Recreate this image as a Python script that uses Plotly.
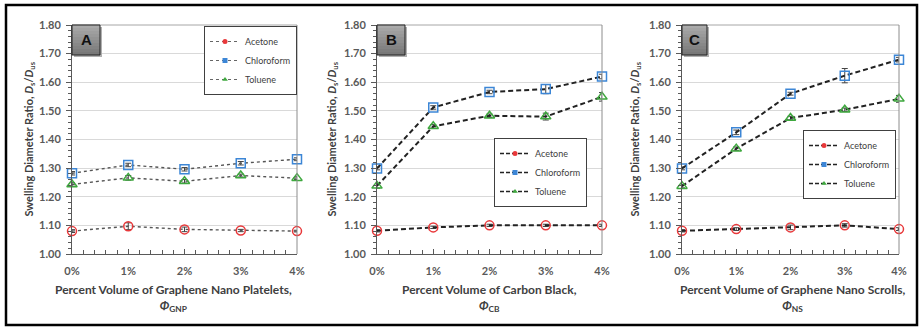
import plotly.graph_objects as go

W, H = 923, 327

# ---------------- data ----------------
x_pct = [0, 1, 2, 3, 4]
x_labels = ["0%", "1%", "2%", "3%", "4%"]
y_ticks = [1.0, 1.1, 1.2, 1.3, 1.4, 1.5, 1.6, 1.7, 1.8]
series_names = ["Acetone", "Chloroform", "Toluene"]
panel_letters = ["A", "B", "C"]

gnp_acetone = [1.080, 1.097, 1.086, 1.082, 1.080]
gnp_chloroform = [1.282, 1.311, 1.296, 1.317, 1.331]
gnp_toluene = [1.243, 1.266, 1.254, 1.274, 1.265]
gnp_acetone_err = [0.005, 0.012, 0.008, 0.004, 0.003]
gnp_chloroform_err = [0.006, 0.006, 0.006, 0.006, 0.005]
gnp_toluene_err = [0.006, 0.008, 0.006, 0.005, 0.005]

cb_acetone = [1.081, 1.093, 1.100, 1.100, 1.100]
cb_chloroform = [1.299, 1.512, 1.566, 1.576, 1.620]
cb_toluene = [1.238, 1.446, 1.483, 1.480, 1.549]
cb_acetone_err = [0.004, 0.004, 0.004, 0.004, 0.004]
cb_chloroform_err = [0.005, 0.006, 0.006, 0.016, 0.008]
cb_toluene_err = [0.008, 0.006, 0.006, 0.012, 0.015]

ns_acetone = [1.081, 1.087, 1.093, 1.100, 1.087]
ns_chloroform = [1.299, 1.425, 1.560, 1.623, 1.679]
ns_toluene = [1.237, 1.368, 1.475, 1.504, 1.542]
ns_acetone_err = [0.004, 0.005, 0.008, 0.006, 0.005]
ns_chloroform_err = [0.005, 0.008, 0.005, 0.025, 0.008]
ns_toluene_err = [0.006, 0.006, 0.006, 0.006, 0.012]

x_titles = [
    "Percent Volume of Graphene Nano Platelets,<br><i>Φ</i><sub>GNP</sub>",
    "Percent Volume of Carbon Black,<br><i>Φ</i><sub>CB</sub>",
    "Percent Volume of Graphene Nano Scrolls,<br><i>Φ</i><sub>NS</sub>",
]
y_title = "Swelling Diameter Ratio, <i>D</i><sub>s</sub>/<i>D</i><sub>us</sub>"

panels = [
    ([gnp_acetone, gnp_chloroform, gnp_toluene], [gnp_acetone_err, gnp_chloroform_err, gnp_toluene_err]),
    ([cb_acetone, cb_chloroform, cb_toluene], [cb_acetone_err, cb_chloroform_err, cb_toluene_err]),
    ([ns_acetone, ns_chloroform, ns_toluene], [ns_acetone_err, ns_chloroform_err, ns_toluene_err]),
]

# ---------------- styles ----------------
FONT = "Lato"
colors = ["#e8383a", "#3c86d6", "#3ea83e"]
open_syms = ["circle-open", "square-open", "triangle-up-open"]
fill_syms = ["circle", "square", "triangle-up"]
line_styles = [
    dict(color="#555555", width=1.4, dash="dot"),
    dict(color="#222222", width=2, dash="5px,3px"),
    dict(color="#222222", width=2, dash="5px,3px"),
]
legend_line_styles = [
    dict(color="#666666", width=1, dash="dot"),
    dict(color="#222222", width=1.6, dash="4px,2px"),
    dict(color="#222222", width=1.6, dash="4px,2px"),
]

# plot-area pixel boxes (left, right) and shared top/bottom
px_boxes = [(72, 297), (377, 602), (682, 899)]
top_px, bot_px = 25, 254
label_box_w = [28, 28, 25]
ytitle_px = [29, 332, 635]
xtitle_cx = [173, 489, 792]
legend_pos = [(204, 26), (494, 138), (803, 130)]


def fx(p):
    return p / W


def fy(p):
    return 1 - p / H


fig = go.Figure()
shapes = []
annotations = []
layout = {}

for i, (vals, errs) in enumerate(panels):
    n = "" if i == 0 else str(i + 1)
    xa, ya = "x" + n, "y" + n
    leg = "legend" + n
    for s in range(3):
        fig.add_trace(go.Scatter(
            x=x_pct, y=vals[s], xaxis=xa, yaxis=ya, mode="lines+markers",
            line=line_styles[i],
            marker=dict(symbol=open_syms[s], size=9, color=colors[s], line=dict(width=1.5, color=colors[s])),
            error_y=dict(type="data", array=errs[s], visible=True, color="#444444", thickness=1, width=3),
            showlegend=False, cliponaxis=False, name=series_names[s],
        ))
    for s in range(3):
        fig.add_trace(go.Scatter(
            x=[None], y=[None], xaxis=xa, yaxis=ya, mode="lines+markers",
            line=legend_line_styles[i],
            marker=dict(symbol=fill_syms[s], size=5, color=colors[s]),
            name=series_names[s], legend=leg, showlegend=True,
        ))

    l, r = px_boxes[i]
    layout["xaxis" + n] = dict(
        domain=[fx(l), fx(r)], anchor=ya, range=[0, 4], tickvals=x_pct, ticktext=x_labels,
        showline=True, linecolor="#595959", linewidth=1, ticks="inside", ticklen=5, tickcolor="#595959",
        minor=dict(dtick=0.2, ticks="inside", ticklen=4, tickcolor="#595959", showgrid=False),
        showgrid=False, zeroline=False, ticklabelstandoff=7, automargin=False,
        tickfont=dict(family=FONT, size=11, color="#595959", weight="bold"),
    )
    layout["yaxis" + n] = dict(
        domain=[fy(bot_px), fy(top_px)], anchor=xa, range=[1.0, 1.8], tickvals=y_ticks, tickformat=".2f",
        showline=True, linecolor="#595959", linewidth=1, ticks="outside", ticklen=5, tickcolor="#595959",
        minor=dict(dtick=0.02, ticks="outside", ticklen=3, tickcolor="#595959", showgrid=False),
        showgrid=True, gridcolor="#d9d9d9", gridwidth=1, zeroline=False, ticklabelstandoff=3, automargin=False,
        tickfont=dict(family=FONT, size=11, color="#595959", weight="bold"),
    )
    lx, ly = legend_pos[i]
    layout[leg] = dict(
        x=fx(lx), y=fy(ly), xanchor="left", yanchor="top", xref="paper", yref="paper",
        bordercolor="#404040", borderwidth=1, bgcolor="white",
        font=dict(family=FONT, size=9, color="#404040"), itemwidth=30, tracegroupgap=0,
    )

    # top / right plot frame
    shapes.append(dict(type="line", xref="paper", yref="paper", x0=fx(l), x1=fx(r), y0=fy(top_px), y1=fy(top_px),
                       line=dict(color="#a6a6a6", width=1)))
    shapes.append(dict(type="line", xref="paper", yref="paper", x0=fx(r), x1=fx(r), y0=fy(top_px), y1=fy(bot_px),
                       line=dict(color="#8c8c8c", width=1)))

    # panel label box with shadow + gradient
    bw = label_box_w[i]
    bh = 30
    shapes.append(dict(type="rect", xref="paper", yref="paper", x0=fx(l + 2), x1=fx(l + bw + 2),
                       y0=fy(top_px + bh + 2), y1=fy(top_px + 2), fillcolor="#b0b0b0", line=dict(width=0)))
    steps = 10
    for k in range(steps):
        c = int(170 - (170 - 120) * k / (steps - 1))
        shapes.append(dict(type="rect", xref="paper", yref="paper", x0=fx(l), x1=fx(l + bw),
                           y0=fy(top_px + bh * (k + 1) / steps), y1=fy(top_px + bh * k / steps),
                           fillcolor=f"rgb({c},{c},{c})", line=dict(width=0)))
    shapes.append(dict(type="rect", xref="paper", yref="paper", x0=fx(l), x1=fx(l + bw),
                       y0=fy(top_px + bh), y1=fy(top_px), line=dict(color="#222222", width=1)))
    annotations.append(dict(text=panel_letters[i], x=fx(l + bw / 2), y=fy(top_px + bh / 2), xref="paper", yref="paper",
                            showarrow=False, xanchor="center", yanchor="middle",
                            font=dict(family="Liberation Sans", size=15, color="#111111", weight="bold")))

    # axis titles
    annotations.append(dict(text=y_title, x=fx(ytitle_px[i]), y=fy((top_px + bot_px) / 2), xref="paper", yref="paper",
                            showarrow=False, textangle=-90, xanchor="center", yanchor="middle",
                            font=dict(family=FONT, size=11, color="#404040", weight="bold")))
    annotations.append(dict(text=x_titles[i], x=fx(xtitle_cx[i]), y=fy(280), xref="paper", yref="paper",
                            showarrow=False, xanchor="center", yanchor="top", align="center",
                            font=dict(family=FONT, size=12, color="#404040", weight="bold")))

# outer border
shapes.append(dict(type="rect", xref="paper", yref="paper", x0=fx(6), x1=fx(917), y0=fy(325), y1=fy(5),
                   line=dict(color="black", width=2.5)))

fig.update_layout(
    width=W, height=H, margin=dict(l=0, r=0, t=0, b=0, autoexpand=False),
    paper_bgcolor="white", plot_bgcolor="white", hovermode=False,
    shapes=shapes, annotations=annotations, **layout,
)

fig.write_html(
    "out.html",
    config={"displayModeBar": False, "staticPlot": True},
    post_script="document.body.style.margin='0';document.body.style.overflow='hidden';",
)
